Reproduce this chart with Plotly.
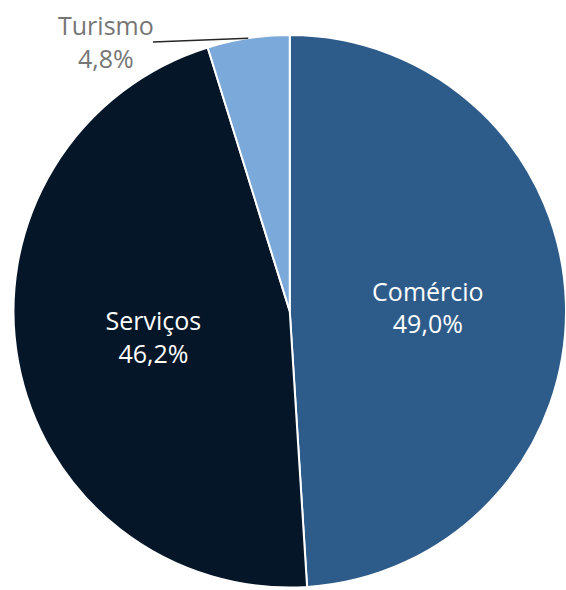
import math

import plotly.graph_objects as go

# Share of companies by sector (%)
sectors = ["Comércio", "Serviços", "Turismo"]
shares = [49.0, 46.2, 4.8]
colors = ["#2E5C8A", "#051629", "#7BA9D9"]

W, H = 566, 590
FONT = "Open Sans, Noto Sans, sans-serif"


def px_x(x):
    return x / W


def px_y(y):
    return 1 - y / H


# pie: centre ~(290, 311), radius ~277 in pixels
dom_x = [px_x(13.5), 1.0]
dom_y = [px_y(589), px_y(33.5)]

fig = go.Figure(
    go.Pie(
        labels=sectors,
        values=shares,
        sort=False,
        direction="clockwise",
        rotation=0,
        marker=dict(colors=colors, line=dict(color="white", width=2)),
        texttemplate="%{label}<br>%{percent:.1%}",
        textposition=["inside", "inside", "none"],
        insidetextorientation="horizontal",
        insidetextfont=dict(color="white", size=25, family=FONT),
        hoverinfo="label+percent",
        showlegend=False,
        domain=dict(x=dom_x, y=dom_y),
    )
)

# outside label for the small slice, with a leader line to its arc midpoint
cx = (dom_x[0] + dom_x[1]) / 2 * W
cy = (1 - (dom_y[0] + dom_y[1]) / 2) * H
radius = min((dom_x[1] - dom_x[0]) * W, (dom_y[1] - dom_y[0]) * H) / 2
total = sum(shares)
start = sum(shares[:2]) / total * 360
mid = math.radians(start + shares[2] / total * 180)
ex = cx + radius * math.sin(mid)
ey = cy - radius * math.cos(mid)

fig.add_shape(
    type="line", xref="paper", yref="paper",
    x0=px_x(153), y0=px_y(42), x1=ex / W, y1=1 - ey / H,
    line=dict(color="#262626", width=1.5),
)
fig.add_annotation(
    x=px_x(106), y=px_y(42), xref="paper", yref="paper",
    xanchor="center", yanchor="middle",
    text=f"{sectors[2]}<br>{shares[2]:.1f}%".replace(".", ","),
    showarrow=False, align="center",
    font=dict(color="#767676", size=25, family=FONT),
)

fig.update_layout(
    width=W, height=H,
    margin=dict(l=0, r=0, t=0, b=0),
    separators=",.",
    paper_bgcolor="white",
    plot_bgcolor="white",
)

# drop the default 8px body margin so the figure fills the window exactly
fig.write_html(
    "out.html",
    config={"displayModeBar": False},
    post_script="document.body.style.margin = '0';",
)
